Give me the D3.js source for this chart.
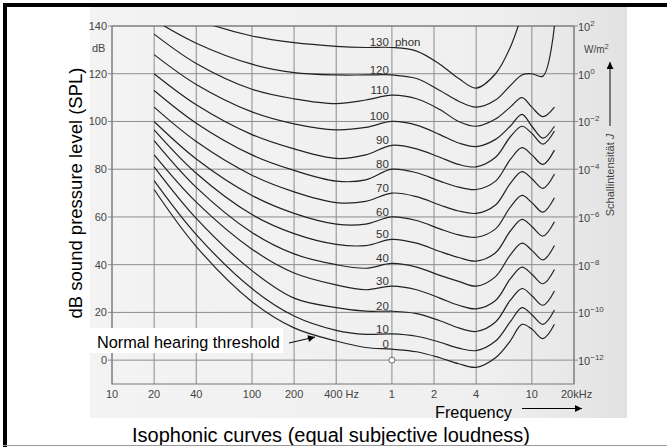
<!DOCTYPE html>
<html><head><meta charset="utf-8">
<script src="https://cdn.jsdelivr.net/npm/d3@7"></script>
<style>html,body{margin:0;padding:0;background:#fff}svg{display:block}</style>
</head><body>
<script>
// ---- data ----
const freqs = [20, 40, 100, 200, 400, 650, 1000, 1500, 2200, 3000, 4000, 5500, 7000, 8500, 10000, 12000, 14500];
const phon0   = [71.5, 47.6, 24.5, 13.5, 8, 5.3, 4.6, 3.5, 1, -1.5, -3, 1, 8, 15, 13, 9, 15];
const phon10  = [75.2, 52.6, 30, 18.5, 12.5, 10.8, 11, 10, 7.5, 5, 4, 8, 16, 22, 19, 15, 21];
const phon20  = [81, 59.4, 37.5, 26, 22, 20.5, 20.5, 19.5, 16.5, 13.5, 12, 16, 25, 30, 27, 23, 29];
const phon30  = [86, 66.2, 46.5, 36.5, 31.5, 29.5, 31, 29.5, 26, 23, 21.5, 25, 34, 39, 36, 32, 38];
const phon40  = [92, 72.4, 53.5, 44.5, 40, 38.5, 40.5, 39, 35.5, 33, 31, 35, 44, 49, 46, 42, 48];
const phon50  = [96.5, 78.3, 61, 53, 48.5, 48, 50.6, 49, 45.5, 43, 41.5, 45, 54, 59, 56, 52, 58];
const phon60  = [100, 84.3, 69, 61.5, 57, 57, 60, 58.5, 55, 52.5, 51.5, 55, 64, 69, 66, 62, 68];
const phon70  = [106, 91.6, 77.5, 70.5, 66, 66.5, 70, 68.5, 65, 62.5, 61.5, 65, 74, 79, 76, 72, 78];
const phon80  = [113, 99.3, 86, 79.5, 75, 75.5, 80, 78.5, 75, 72.5, 71.5, 75, 84, 89, 86, 82, 88];
const phon90  = [120, 107, 94.5, 88.5, 84.5, 86, 90, 88.5, 85, 82, 81, 85, 93.5, 98, 95, 90.5, 96];
const phon100 = [128, 115.5, 104, 99, 96.5, 97.5, 100, 98.5, 94.5, 91, 89.5, 92.5, 98, 103, 98, 93, 98];
const phon110 = [136.6, 124.3, 113.5, 109.5, 107.5, 109, 111, 109.5, 105, 100, 98, 101, 106, 110, 106, 102, 106];
const phon120 = [142.5, 132.8, 124, 120.5, 119.5, 119.5, 119.5, 118, 113, 108.5, 106, 109, 115, 119.5, 120, 119, 140];
const phon130 = [150, 142.6, 135.8, 133, 131.5, 131, 131, 129.5, 124, 118, 114, 120, 131, 145, null, null, null];
const phonLevels = [0, 10, 20, 30, 40, 50, 60, 70, 80, 90, 100, 110, 120, 130];
const phonSeries = [phon0, phon10, phon20, phon30, phon40, phon50, phon60, phon70, phon80, phon90, phon100, phon110, phon120, phon130];
const xTicks = [10, 20, 40, 100, 200, 400, 1000, 2000, 4000, 10000, 20000];
const xTickLabels = ["10", "20", "40", "100", "200", "400 Hz", "1", "2", "4", "10", "20kHz"];
const yTicks = [0, 20, 40, 60, 80, 100, 120, 140];
const intensityExp = ["-12", "-10", "-8", "-6", "-4", "-2", "0", "2"];

// ---- drawing ----
const W = 667, H = 447;
const svg = d3.select("body").append("svg").attr("width", W).attr("height", H)
  .attr("font-family", "'Liberation Sans', Arial, sans-serif");

const defs = svg.append("defs");
const grad = defs.append("linearGradient").attr("id", "scan").attr("x1", 0).attr("x2", 1).attr("y1", 0).attr("y2", 0);
grad.append("stop").attr("offset", "0%").attr("stop-color", "#f3f3f3");
grad.append("stop").attr("offset", "75%").attr("stop-color", "#efefef");
grad.append("stop").attr("offset", "100%").attr("stop-color", "#e2e2e2");
const mk = defs.append("marker").attr("id", "ah").attr("viewBox", "0 0 10 10").attr("refX", 10).attr("refY", 5)
  .attr("markerWidth", 9).attr("markerHeight", 7).attr("markerUnits", "userSpaceOnUse").attr("orient", "auto");
mk.append("path").attr("d", "M0,0 L10,5 L0,10 Z").attr("fill", "#000");

svg.append("rect").attr("width", W).attr("height", H).attr("fill", "#fff");
svg.append("rect").attr("x", 90).attr("y", 7).attr("width", 537).attr("height", 411).attr("fill", "url(#scan)");

const x = d3.scaleLog().domain([10, 20000]).range([112, 574]);
const y = d3.scaleLinear().domain([-10, 140]).range([384, 26]);

const g = svg.append("g");

// grid verticals
g.selectAll("line.vg").data(xTicks).join("line")
  .attr("x1", d => x(d)).attr("x2", d => x(d)).attr("y1", y(140)).attr("y2", y(-10))
  .attr("stroke", "#8c8c8c").attr("stroke-width", 1);
// grid horizontals
g.selectAll("line.hg").data(yTicks).join("line")
  .attr("x1", x(10) - 4).attr("x2", x(20000) + 4).attr("y1", d => y(d)).attr("y2", d => y(d))
  .attr("stroke", "#8c8c8c").attr("stroke-width", 1);
// frame
g.append("rect").attr("x", x(10)).attr("y", y(140)).attr("width", x(20000) - x(10)).attr("height", y(-10) - y(140))
  .attr("fill", "none").attr("stroke", "#777").attr("stroke-width", 1);

// left labels
g.selectAll("text.yl").data(yTicks).join("text")
  .attr("x", 107).attr("y", d => y(d) + 4).attr("text-anchor", "end")
  .attr("font-size", 11).attr("fill", "#444").text(d => d);
g.append("text").attr("x", 92).attr("y", 52).attr("font-size", 11).attr("fill", "#444").text("dB");

// bottom labels
g.selectAll("text.xl").data(xTicks).join("text")
  .attr("x", (d, i) => i === 5 ? x(d) - 12 : (i === 10 ? x(d) - 13 : x(d)))
  .attr("y", 398).attr("text-anchor", (d, i) => (i === 5 || i === 10) ? "start" : "middle")
  .attr("font-size", 11).attr("fill", "#444").text((d, i) => xTickLabels[i]);

// right labels (intensity)
const rl = g.selectAll("text.rl").data(yTicks).join("text")
  .attr("x", x(20000) + 4).attr("y", d => y(d) + 5).attr("font-size", 11).attr("fill", "#444");
rl.append("tspan").text("10");
rl.append("tspan").attr("dy", -5).attr("font-size", 8).text((d, i) => intensityExp[i].replace("-", "\u2212"));
const wm = g.append("text").attr("x", 584).attr("y", 53).attr("font-size", 10).attr("fill", "#444");
wm.append("tspan").text("W/m");
wm.append("tspan").attr("dy", -4).attr("font-size", 7.5).text("2");

// Schallintensität J
const si = g.append("text").attr("transform", "translate(614,175) rotate(-90)").attr("text-anchor", "middle")
  .attr("font-size", 11).attr("fill", "#444");
si.append("tspan").text("Schallintensität ");
si.append("tspan").attr("font-style", "italic").text("J");
g.append("line").attr("x1", 610).attr("x2", 610).attr("y1", 126).attr("y2", 62)
  .attr("stroke", "#333").attr("stroke-width", 1.2).attr("marker-end", "url(#ah)");

// curves
defs.append("clipPath").attr("id", "plotclip").append("rect")
  .attr("x", x(10)).attr("y", y(140)).attr("width", x(20000) - x(10)).attr("height", y(-10) - y(140));
const line = d3.line().defined(d => d[1] != null).x(d => x(d[0])).y(d => y(d[1]))
  .curve(d3.curveCatmullRom.alpha(0.5));
g.append("g").attr("clip-path", "url(#plotclip)").selectAll("path").data(phonSeries).join("path")
  .attr("d", s => line(freqs.map((f, i) => [f, s[i]])))
  .attr("fill", "none").attr("stroke", "#222").attr("stroke-width", 1.2);

// curve labels at 1 kHz
const i1k = freqs.indexOf(1000);
g.selectAll("text.pl").data(phonLevels).join("text")
  .attr("x", x(1000) - 3).attr("y", (d, i) => y(phonSeries[i][i1k]) - 1)
  .attr("text-anchor", "end").attr("font-size", 11.5).attr("fill", "#333").text(d => d);
g.append("text").attr("x", x(1000) + 3).attr("y", y(phon130[i1k]) - 1).attr("font-size", 11.5).attr("fill", "#333").text("phon");

// reference point
g.append("circle").attr("cx", x(1000)).attr("cy", y(0)).attr("r", 3).attr("fill", "#fff").attr("stroke", "#666");

// Normal hearing threshold
svg.append("rect").attr("x", 90).attr("y", 328).attr("width", 193).attr("height", 25).attr("fill", "#fff");
svg.append("text").attr("x", 97).attr("y", 348).attr("font-size", 16.3).attr("fill", "#000").text("Normal hearing threshold");
svg.append("line").attr("x1", 289).attr("y1", 343).attr("x2", 315).attr("y2", 337)
  .attr("stroke", "#000").attr("stroke-width", 1).attr("marker-end", "url(#ah)");

// Frequency
svg.append("text").attr("x", 435).attr("y", 418).attr("font-size", 16.3).attr("fill", "#000").text("Frequency");
svg.append("line").attr("x1", 522).attr("y1", 408.5).attr("x2", 582).attr("y2", 408.5)
  .attr("stroke", "#000").attr("stroke-width", 1.2).attr("marker-end", "url(#ah)");

// y title
svg.append("text").attr("transform", "translate(82,193) rotate(-90)").attr("text-anchor", "middle")
  .attr("font-size", 18.5).attr("fill", "#000").text("dB sound pressure level (SPL)");

// title
svg.append("text").attr("x", 331).attr("y", 442).attr("text-anchor", "middle")
  .attr("font-size", 20).attr("fill", "#000").text("Isophonic curves (equal subjective loudness)");

// borders
svg.append("rect").attr("x", 3).attr("y", 3).attr("width", W - 3).attr("height", 4).attr("fill", "#000");
svg.append("rect").attr("x", 3).attr("y", 3).attr("width", 4).attr("height", H - 3).attr("fill", "#000");
svg.append("line").attr("x1", 3).attr("x2", W).attr("y1", 445.5).attr("y2", 445.5).attr("stroke", "#999");
</script>
</body></html>
